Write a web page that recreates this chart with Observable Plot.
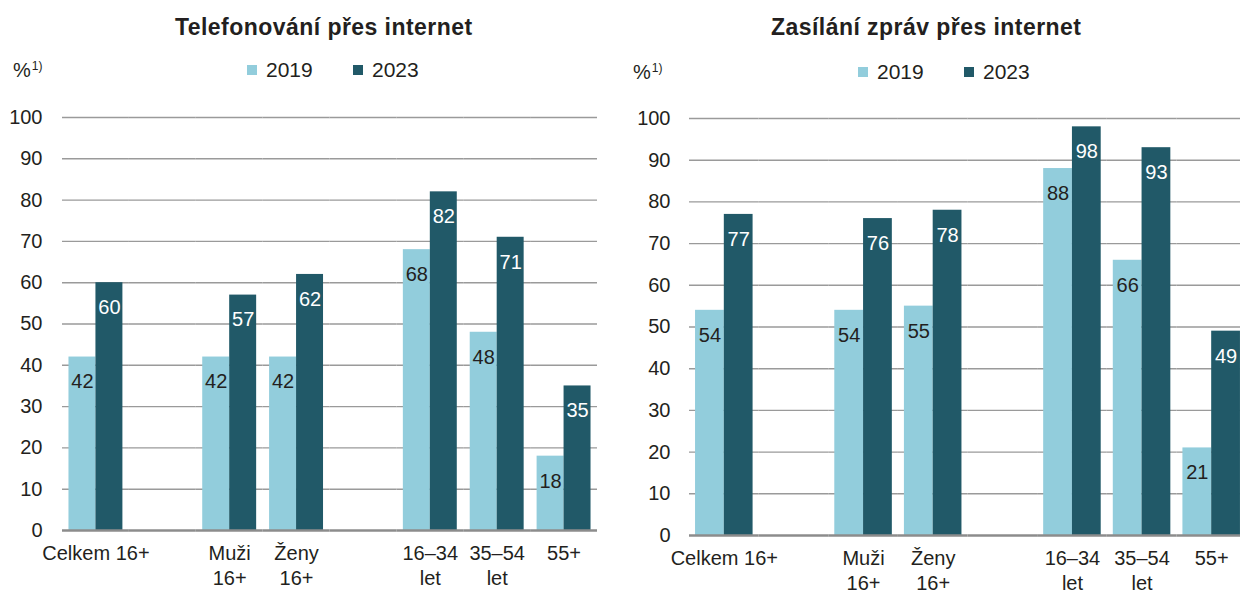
<!DOCTYPE html>
<html>
<head>
<meta charset="utf-8">
<script src="https://cdn.jsdelivr.net/npm/d3@7"></script>
<script src="https://cdn.jsdelivr.net/npm/@observablehq/plot@0.6"></script>
<style>
  html, body { margin: 0; padding: 0; background: #fff; }
  #root { position: relative; width: 1240px; height: 593px; overflow: hidden; font-family: "Liberation Sans", Arial, sans-serif; color: #231f20; }
  .abs { position: absolute; line-height: 1; white-space: nowrap; }
  .title { font-weight: bold; font-size: 23px; letter-spacing: 0.45px; }
  .leg { font-size: 21px; }
  .sw { position: absolute; width: 10px; height: 10px; }
  .unit { font-size: 20px; }
  .unit sup { font-size: 12px; vertical-align: 7px; margin-left: 1px; }
  .panel { position: absolute; top: 95px; }
  .panel svg { max-width: none !important; }
</style>
</head>
<body>
<div id="root"></div>
<script>
// ---- data ----
const slots = ["Celkem 16+", "gap1", "Muži\n16+", "Ženy\n16+", "gap2", "16–34\nlet", "35–54\nlet", "55+"];
const categories = ["Celkem 16+", "Muži\n16+", "Ženy\n16+", "16–34\nlet", "35–54\nlet", "55+"];
const years = ["2019", "2023"];
const colors = ["#92cddc", "#215968"];
const yTicks = [0, 10, 20, 30, 40, 50, 60, 70, 80, 90, 100];

const tel2019 = [42, 42, 42, 68, 48, 18];
const tel2023 = [60, 57, 62, 82, 71, 35];
const msg2019 = [54, 54, 55, 88, 66, 21];
const msg2023 = [77, 76, 78, 98, 93, 49];

const titles = ["Telefonování přes internet", "Zasílání zpráv přes internet"];
const unitLabel = "%";
const unitNote = "1)";

function table(v2019, v2023) {
  const rows = [];
  slots.forEach(s => {
    const i = categories.indexOf(s);
    years.forEach((y, j) => rows.push({cat: s, year: y, value: i < 0 ? null : [v2019, v2023][j][i]}));
  });
  return rows;
}

function chart(rows, o) {
  return Plot.plot({
    width: o.width, height: 498,
    marginLeft: o.ml, marginRight: o.mr, marginTop: o.mt, marginBottom: o.mb,
    facet: {marginTop: 0, marginRight: 0, marginBottom: 0, marginLeft: 0},
    style: {fontFamily: '"Liberation Sans", Arial, sans-serif', fontSize: "20px", color: "#231f20", background: "transparent", overflow: "visible", maxWidth: "none"},
    fx: {domain: slots, padding: 0, round: false, label: null},
    x: {domain: years, paddingInner: 0, paddingOuter: o.po, round: false, axis: null},
    y: {domain: [0, 100], label: null},
    color: {domain: years, range: colors},
    marks: [
      Plot.gridY(yTicks.filter(t => t > 0), {stroke: "#9a9a9a", strokeOpacity: 1, strokeWidth: 1.4}),
      Plot.barY(rows, {fx: "cat", x: "year", y: "value", fill: "year"}),
      Plot.ruleY([0], {stroke: "#8c8c8c", strokeWidth: 2.5}),
      Plot.text(rows, {fx: "cat", x: "year", y: "value", text: d => d.value, dy: 25,
        fill: d => d.year === years[0] ? "#231f20" : "#ffffff", fontSize: 20}),
      Plot.axisY(yTicks, {tickSize: 0, tickPadding: o.tp, label: null, fontSize: 20}),
      Plot.axisFx({anchor: "bottom", tickSize: 0, tickPadding: 11, label: null, lineHeight: 1.28,
        tickFormat: d => d.startsWith("gap") ? "" : d, fontSize: 20})
    ]
  });
}

const root = document.getElementById("root");
function addAbs(html, cls, left, top) {
  const d = document.createElement("div");
  d.className = "abs " + cls;
  d.style.left = left + "px";
  d.style.top = top + "px";
  d.innerHTML = html;
  root.appendChild(d);
  return d;
}

const panels = [
  {rows: table(tel2019, tel2023), left: 0, opts: {width: 620, ml: 62, mr: 23, mt: 22, mb: 63, po: 0.24, tp: 20},
   titleX: 324, legX: 247, legY: 59, unitX: 13, unitY: 60},
  {rows: table(msg2019, msg2023), left: 620, opts: {width: 627, ml: 69, mr: 1, mt: 23, mb: 58, po: 0.21, tp: 19},
   titleX: 926, legX: 858, legY: 61, unitX: 633, unitY: 62}
];

panels.forEach((p, k) => {
  const wrap = document.createElement("div");
  wrap.className = "panel";
  wrap.style.left = p.left + "px";
  wrap.style.width = p.opts.width + "px";
  wrap.appendChild(chart(p.rows, p.opts));
  root.appendChild(wrap);

  const t = addAbs(titles[k], "title", 0, 16);
  t.style.left = (p.titleX - t.offsetWidth / 2) + "px";

  addAbs(unitLabel + "<sup>" + unitNote + "</sup>", "unit", p.unitX, p.unitY);

  years.forEach((y, j) => {
    const x = p.legX + j * 106;
    const sw = document.createElement("div");
    sw.className = "sw";
    sw.style.left = x + "px";
    sw.style.top = (p.legY + 6) + "px";
    sw.style.background = colors[j];
    root.appendChild(sw);
    addAbs(y, "leg", x + 19, p.legY);
  });
});
</script>
</body>
</html>
